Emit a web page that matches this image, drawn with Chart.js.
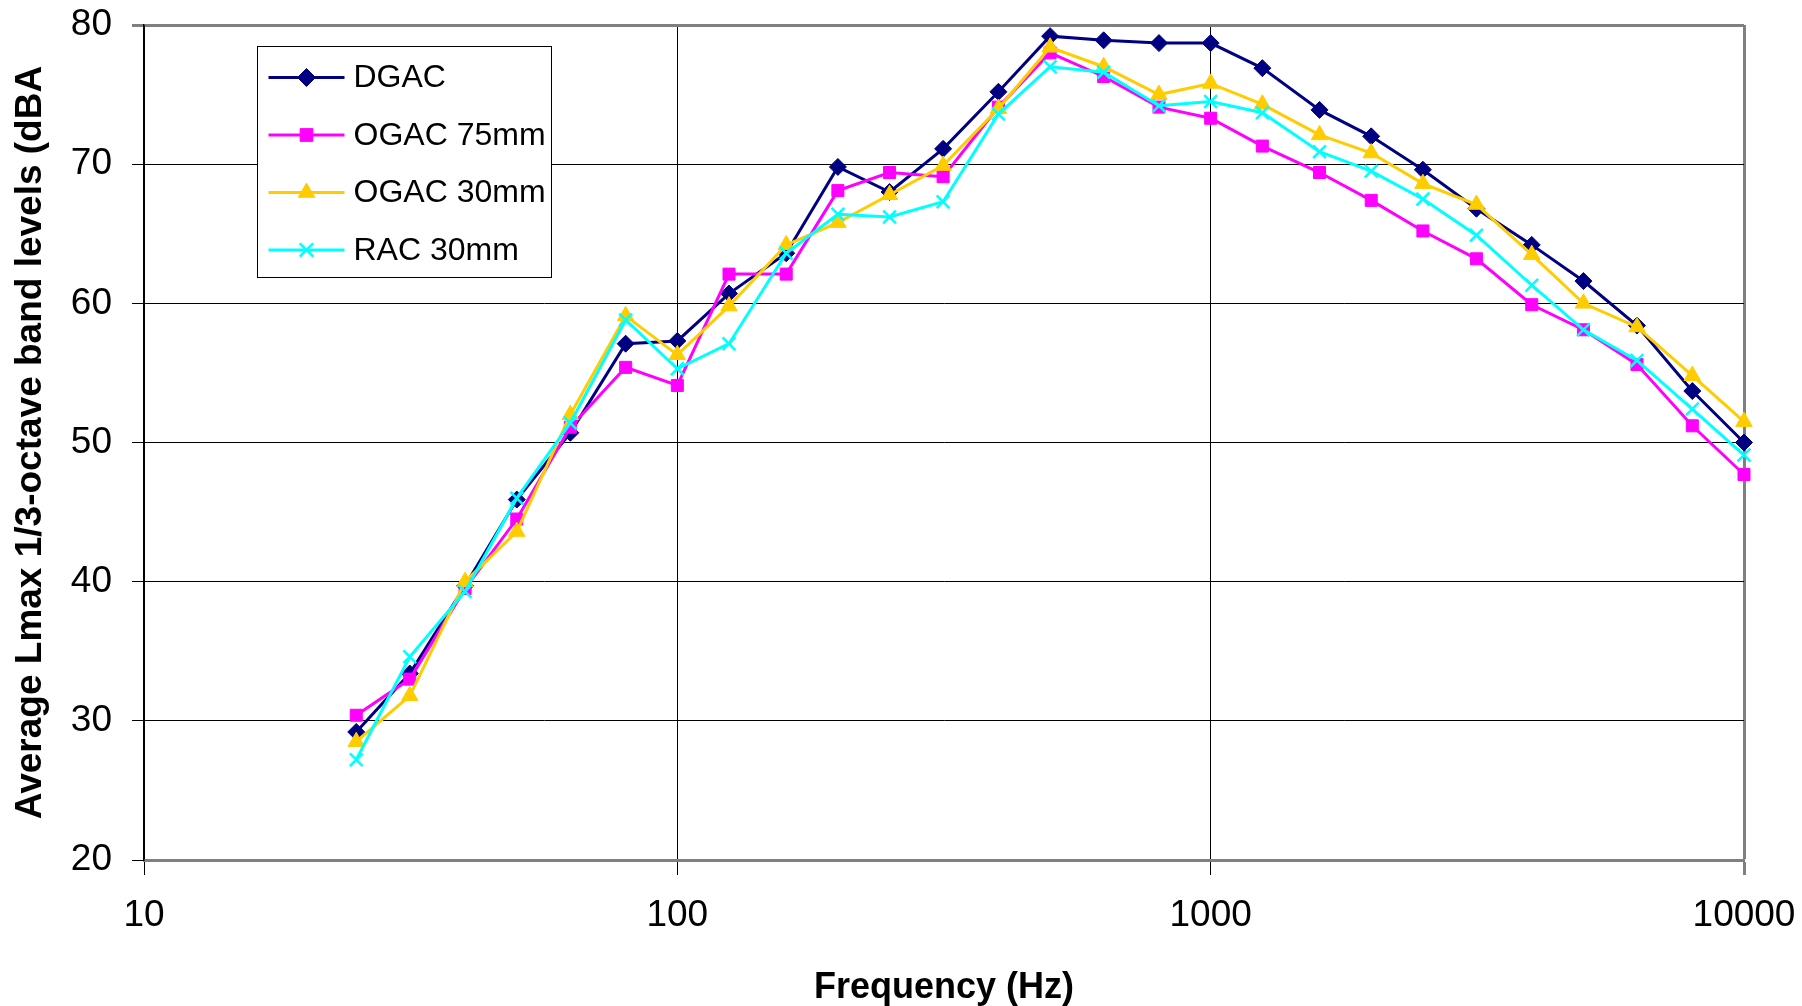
<!DOCTYPE html>
<html>
<head>
<meta charset="utf-8">
<script src="https://cdn.jsdelivr.net/npm/chart.js@4.4.1/dist/chart.umd.min.js"></script>
<style>
  html, body { margin: 0; padding: 0; background: #ffffff; }
  #wrap { position: relative; width: 1802px; height: 1006px; }
</style>
</head>
<body>
<div id="wrap"><canvas id="c" width="1802" height="1006"></canvas></div>
<script>
// ---- Data ----
const frequencies = [25, 31.5, 40, 50, 63, 80, 100, 125, 160, 200, 250, 315, 400, 500, 630, 800, 1000, 1250, 1600, 2000, 2500, 3150, 4000, 5000, 6300, 8000, 10000];
const seriesNames = ['DGAC', 'OGAC 75mm', 'OGAC 30mm', 'RAC 30mm'];
const dgac   = [29.2, 33.4, 39.7, 45.9, 50.7, 57.1, 57.3, 60.7, 63.6, 69.8, 68.0, 71.1, 75.2, 79.2, 78.9, 78.7, 78.7, 76.9, 73.9, 72.0, 69.6, 66.8, 64.2, 61.6, 58.4, 53.7, 50.0];
const ogac75 = [30.4, 33.0, 39.5, 44.5, 51.1, 55.4, 54.1, 62.1, 62.1, 68.1, 69.4, 69.1, 74.1, 78.0, 76.3, 74.1, 73.3, 71.3, 69.4, 67.4, 65.2, 63.2, 59.9, 58.1, 55.6, 51.2, 47.7];
const ogac30 = [28.5, 31.8, 40.0, 43.6, 52.0, 59.1, 56.3, 59.8, 64.2, 65.8, 67.8, 69.9, 74.0, 78.4, 77.0, 75.0, 75.8, 74.3, 72.1, 70.8, 68.6, 67.1, 63.5, 60.0, 58.3, 54.8, 51.5];
const rac30  = [27.2, 34.6, 39.3, 46.0, 51.4, 58.8, 55.3, 57.1, 63.6, 66.4, 66.2, 67.3, 73.6, 77.0, 76.6, 74.2, 74.5, 73.7, 70.9, 69.5, 67.5, 64.9, 61.3, 58.1, 55.9, 52.4, 49.1];
const xTickValues = [10, 100, 1000, 10000];
const yTickMin = 20;
const yTickMax = 80;
const yTickStep = 10;
const xTitle = 'Frequency (Hz)';
const yTitle = 'Average Lmax 1/3-octave band levels (dBA';

// ---- Styles ----
const FONT = "Arial, 'Liberation Sans', Helvetica, sans-serif";
const styles = [
  { color: '#000080', pointStyle: 'rectRot',  radius: 8.5, border: 1,   legendRadius: 9,   order: 4 },
  { color: '#FF00FF', pointStyle: 'rect',     radius: 8.5, border: 1,   legendRadius: 9,   order: 3 },
  { color: '#FFCC00', pointStyle: 'triangle', radius: 9.5, border: 1,   legendRadius: 9.5, order: 2 },
  { color: '#00FFFF', pointStyle: 'crossRot', radius: 9,   border: 2.5, legendRadius: 9.5, order: 1 }
];
const seriesValues = [dgac, ogac75, ogac30, rac30];

const datasets = seriesNames.map((name, i) => ({
  label: name,
  data: frequencies.map((f, k) => ({ x: f, y: seriesValues[i][k] })),
  borderColor: styles[i].color,
  backgroundColor: styles[i].color,
  pointBackgroundColor: styles[i].color,
  pointBorderColor: styles[i].color,
  pointStyle: styles[i].pointStyle,
  pointRadius: styles[i].radius,
  pointHoverRadius: styles[i].radius,
  pointBorderWidth: styles[i].border,
  borderWidth: 3,
  tension: 0,
  fill: false,
  clip: false,
  order: styles[i].order
}));

// ---- Legend box drawn inside the plot (Excel style: line + marker) ----
function drawMarker(ctx, style, radius, bw, x, y) {
  if (Chart.helpers && Chart.helpers.drawPoint) {
    Chart.helpers.drawPoint(ctx, { pointStyle: style, radius: radius, rotation: 0, borderWidth: bw }, x, y);
    return;
  }
  ctx.beginPath();
  if (style === 'rectRot') {
    ctx.moveTo(x - radius, y); ctx.lineTo(x, y - radius); ctx.lineTo(x + radius, y); ctx.lineTo(x, y + radius); ctx.closePath();
    ctx.fill(); ctx.stroke();
  } else if (style === 'rect') {
    const s = Math.SQRT1_2 * radius; ctx.rect(x - s, y - s, 2 * s, 2 * s); ctx.fill(); ctx.stroke();
  } else if (style === 'triangle') {
    for (let k = 0; k < 3; k++) {
      const a = k * 2 * Math.PI / 3;
      const px = x + Math.sin(a) * radius, py = y - Math.cos(a) * radius;
      if (k === 0) ctx.moveTo(px, py); else ctx.lineTo(px, py);
    }
    ctx.closePath(); ctx.fill(); ctx.stroke();
  } else {
    const o = Math.SQRT1_2 * radius;
    ctx.moveTo(x - o, y - o); ctx.lineTo(x + o, y + o);
    ctx.moveTo(x - o, y + o); ctx.lineTo(x + o, y - o);
    ctx.stroke();
  }
}

const legendBoxPlugin = {
  id: 'legendBox',
  afterDraw(chart) {
    const ctx = chart.ctx;
    const ca = chart.chartArea;
    const boxL = ca.left + 113.5, boxT = ca.top + 21.5, boxW = 294, boxH = 231;
    ctx.save();
    ctx.fillStyle = '#ffffff';
    ctx.fillRect(boxL, boxT, boxW, boxH);
    ctx.strokeStyle = '#000000';
    ctx.lineWidth = 1;
    ctx.strokeRect(boxL, boxT, boxW, boxH);
    chart.data.datasets.forEach((ds, i) => {
      const st = styles[i];
      const cy = boxT + 31 + i * 57.5;
      const lx0 = boxL + 11, lx1 = boxL + 87, mx = boxL + 49;
      ctx.strokeStyle = st.color;
      ctx.lineWidth = 3;
      ctx.beginPath(); ctx.moveTo(lx0, cy); ctx.lineTo(lx1, cy); ctx.stroke();
      ctx.fillStyle = st.color;
      ctx.strokeStyle = st.color;
      ctx.lineWidth = st.border;
      drawMarker(ctx, st.pointStyle, st.legendRadius, st.border, mx, cy);
      ctx.fillStyle = '#000000';
      ctx.font = '32px ' + FONT;
      ctx.textAlign = 'left';
      ctx.textBaseline = 'middle';
      ctx.fillText(ds.label, boxL + 96, cy + 1);
    });
    ctx.restore();
  }
};

function zeroPadding(scale) {
  scale.paddingTop = 0;
  scale.paddingBottom = 0;
  scale.paddingLeft = 0;
  scale.paddingRight = 0;
}

new Chart(document.getElementById('c'), {
  type: 'line',
  data: { datasets: datasets },
  options: {
    responsive: false,
    animation: false,
    devicePixelRatio: 1,
    layout: { padding: { left: 0, right: 58, top: 25, bottom: 0 } },
    plugins: {
      legend: { display: false },
      tooltip: { enabled: false },
      title: { display: false }
    },
    scales: {
      x: {
        type: 'logarithmic',
        min: xTickValues[0],
        max: xTickValues[xTickValues.length - 1],
        afterBuildTicks: (scale) => { scale.ticks = xTickValues.map(v => ({ value: v, major: true })); },
        afterFit: (scale) => { scale.height = 146; zeroPadding(scale); },
        ticks: {
          autoSkip: false,
          maxRotation: 0,
          minRotation: 0,
          padding: 19,
          color: '#000000',
          font: { family: FONT, size: 37 },
          callback: (v) => String(v)
        },
        grid: {
          drawOnChartArea: true,
          drawTicks: true,
          tickLength: 15,
          color: (c) => (c.tick && c.tick.value === xTickValues[xTickValues.length - 1]) ? '#808080' : '#000000',
          lineWidth: (c) => (c.tick && c.tick.value === xTickValues[xTickValues.length - 1]) ? 3 : 1
        },
        border: { display: true, color: '#808080', width: 3 },
        title: {
          display: true,
          text: xTitle,
          color: '#000000',
          font: { family: FONT, size: 36, weight: 'bold', lineHeight: 1.0 },
          padding: { top: 0, bottom: 0 }
        }
      },
      y: {
        type: 'linear',
        min: yTickMin,
        max: yTickMax,
        afterFit: (scale) => { scale.width = 144; zeroPadding(scale); },
        ticks: {
          stepSize: yTickStep,
          padding: 20,
          color: '#000000',
          font: { family: FONT, size: 37 }
        },
        grid: {
          drawTicks: true,
          tickLength: 12,
          color: (c) => (c.tick && c.tick.value === yTickMax) ? '#808080' : '#000000',
          lineWidth: (c) => (c.tick && c.tick.value === yTickMax) ? 3 : 1
        },
        border: { display: true, color: '#000000', width: 1.5 },
        title: {
          display: true,
          text: yTitle,
          color: '#000000',
          font: { family: FONT, size: 37, weight: 'bold' },
          padding: { top: 9, bottom: 0 }
        }
      }
    }
  },
  plugins: [legendBoxPlugin]
});
</script>
</body>
</html>
